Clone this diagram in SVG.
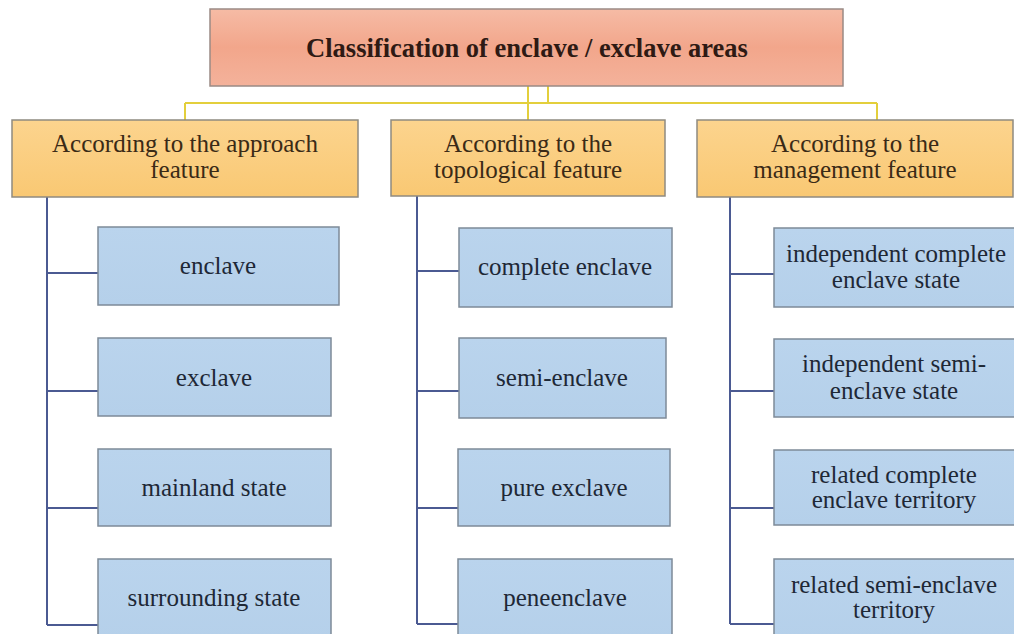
<svg xmlns="http://www.w3.org/2000/svg" width="1014" height="634" viewBox="0 0 1014 634" font-family="'Liberation Serif', 'DejaVu Serif', serif">
<defs>
<linearGradient id="gTop" x1="0" y1="0" x2="0" y2="1">
<stop offset="0" stop-color="#f6bba5"/>
<stop offset="0.5" stop-color="#f2a68b"/>
<stop offset="1" stop-color="#f4b29b"/>
</linearGradient>
<linearGradient id="gCat" x1="0" y1="0" x2="0" y2="1">
<stop offset="0" stop-color="#fcd48e"/>
<stop offset="1" stop-color="#f9c873"/>
</linearGradient>
<linearGradient id="gLeaf" x1="0" y1="0" x2="0" y2="1">
<stop offset="0" stop-color="#bad4ed"/>
<stop offset="1" stop-color="#b5d0ea"/>
</linearGradient>
</defs>
<style>
.top{fill:url(#gTop);stroke:#9a8a85;stroke-width:1.5}
.cat{fill:url(#gCat);stroke:#8f8a80;stroke-width:1.5}
.leaf{fill:url(#gLeaf);stroke:#7e8a98;stroke-width:1.5}
text{font-family:'Liberation Serif','DejaVu Serif',serif;font-size:25px;text-anchor:middle}
.tt{font-weight:bold;fill:#2e1a14;font-size:26.5px}
.ct{fill:#3a2a16}
.lt{fill:#1e2836}
.yel{stroke:#e3cf3c;stroke-width:2;fill:none}
.blu{stroke:#4b5a92;stroke-width:2;fill:none}
</style>
<rect width="1014" height="634" fill="#ffffff"/>
<g id="connectors">
<path class="yel" d="M528,86V120M548,86V103M185,103H877M185,103V120M877,103V120"/>
<path class="blu" d="M47,197V625M47,273H98M47,391H98M47,508H98M47,625H98"/>
<path class="blu" d="M417,196V624M417,271H459M417,391H459M417,508H458M417,624H458"/>
<path class="blu" d="M730,197V624M730,274H774M730,391H774M730,508H774M730,624H774"/>
</g>
<g id="root">
<rect class="top" x="210" y="9" width="633" height="77"/>
<text class="tt" x="527" y="57">Classification of enclave / exclave areas</text>
</g>
<g id="cat-approach">
<rect class="cat" x="12" y="120" width="346" height="77"/>
<text class="ct" x="185" y="152">According to the approach</text>
<text class="ct" x="185" y="178">feature</text>
</g>
<g id="cat-topological">
<rect class="cat" x="391" y="120" width="274" height="76"/>
<text class="ct" x="528" y="152">According to the</text>
<text class="ct" x="528" y="178">topological feature</text>
</g>
<g id="cat-management">
<rect class="cat" x="697" y="120" width="316" height="77"/>
<text class="ct" x="855" y="152">According to the</text>
<text class="ct" x="855" y="178">management feature</text>
</g>
<g id="leaf-enclave">
<rect class="leaf" x="98" y="227" width="241" height="78"/>
<text class="lt" x="218" y="274">enclave</text>
</g>
<g id="leaf-exclave">
<rect class="leaf" x="98" y="338" width="233" height="78"/>
<text class="lt" x="214" y="386">exclave</text>
</g>
<g id="leaf-mainland">
<rect class="leaf" x="98" y="449" width="233" height="77"/>
<text class="lt" x="214" y="496">mainland state</text>
</g>
<g id="leaf-surrounding">
<rect class="leaf" x="98" y="559" width="233" height="82"/>
<text class="lt" x="214" y="606">surrounding state</text>
</g>
<g id="leaf-complete-enclave">
<rect class="leaf" x="459" y="228" width="213" height="79"/>
<text class="lt" x="565" y="275">complete enclave</text>
</g>
<g id="leaf-semi-enclave">
<rect class="leaf" x="459" y="338" width="207" height="80"/>
<text class="lt" x="562" y="386">semi-enclave</text>
</g>
<g id="leaf-pure-exclave">
<rect class="leaf" x="458" y="449" width="212" height="77"/>
<text class="lt" x="564" y="496">pure exclave</text>
</g>
<g id="leaf-peneenclave">
<rect class="leaf" x="458" y="559" width="214" height="82"/>
<text class="lt" x="565" y="606">peneenclave</text>
</g>
<g id="leaf-independent-complete">
<rect class="leaf" x="774" y="228" width="245" height="79"/>
<text class="lt" x="896" y="262">independent complete</text>
<text class="lt" x="896" y="288">enclave state</text>
</g>
<g id="leaf-independent-semi">
<rect class="leaf" x="774" y="339" width="245" height="78"/>
<text class="lt" x="894" y="372">independent semi-</text>
<text class="lt" x="894" y="399">enclave state</text>
</g>
<g id="leaf-related-complete">
<rect class="leaf" x="774" y="450" width="245" height="75"/>
<text class="lt" x="894" y="483">related complete</text>
<text class="lt" x="894" y="508">enclave territory</text>
</g>
<g id="leaf-related-semi">
<rect class="leaf" x="774" y="559" width="245" height="82"/>
<text class="lt" x="894" y="593">related semi-enclave</text>
<text class="lt" x="894" y="618">territory</text>
</g>
</svg>
